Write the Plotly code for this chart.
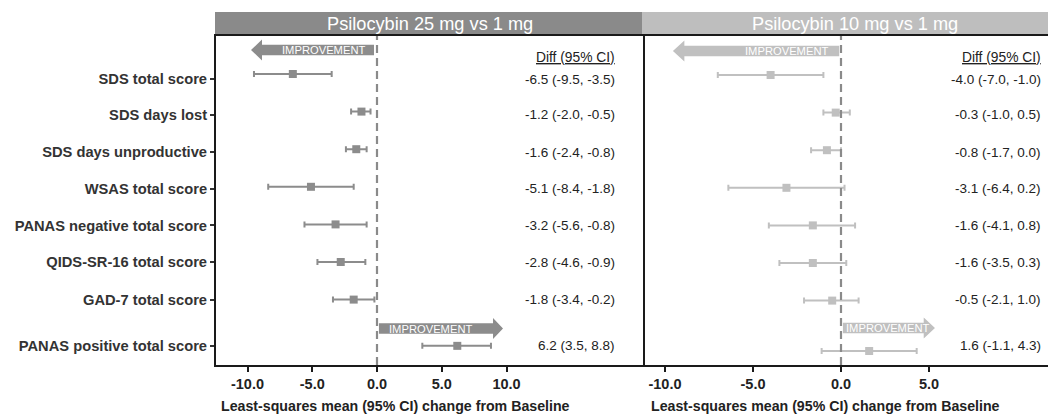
import plotly.graph_objects as go

# ---------------- data ----------------
categories = ["SDS total score", "SDS days lost", "SDS days unproductive", "WSAS total score",
              "PANAS negative total score", "QIDS-SR-16 total score", "GAD-7 total score",
              "PANAS positive total score"]
diff_25 = [-6.5, -1.2, -1.6, -5.1, -3.2, -2.8, -1.8, 6.2]
lo_25 = [-9.5, -2.0, -2.4, -8.4, -5.6, -4.6, -3.4, 3.5]
hi_25 = [-3.5, -0.5, -0.8, -1.8, -0.8, -0.9, -0.2, 8.8]
diff_10 = [-4.0, -0.3, -0.8, -3.1, -1.6, -1.6, -0.5, 1.6]
lo_10 = [-7.0, -1.0, -1.7, -6.4, -4.1, -3.5, -2.1, -1.1]
hi_10 = [-1.0, 0.5, 0.0, 0.2, 0.8, 0.3, 1.0, 4.3]
panel_titles = ["Psilocybin 25 mg vs 1 mg", "Psilocybin 10 mg vs 1 mg"]
x_ticks_25 = [-10, -5, 0, 5, 10]
x_ticks_10 = [-10, -5, 0, 5]
x_title = "Least-squares mean (95% CI) change from Baseline"
diff_header = "Diff (95% CI)"
arrow_label = "IMPROVEMENT"

# ---------------- layout helpers ----------------
OFF = 8                      # page body margin of the browser
W, H = 1056 - OFF, 414 - OFF  # figure size so the page fits the window
UNIT = 37.6  # px per row


def px(x):
    return (x - OFF) / W


def py(y):
    return 1 - (y - OFF) / H


C_DARK = "#8c8c8c"
C_LIGHT = "#c0c0c0"
TXT = "#222222"
AX = "#1a1a1a"
FONT = "Liberation Sans, Arial, sans-serif"

n = len(categories)
# row positions: evenly spaced with an extra gap before the last row
pos_25 = [float(i) for i in range(n - 1)] + [7.23]
pos_10 = [float(i) for i in range(n - 1)] + [7.34]
label_shift = [5, 3, 3, 2, 1, 0, 0, 0]
label_pos = [p + s / UNIT for p, s in zip(pos_25, label_shift)]


def fmt(d, lo, hi):
    return f"{d:.1f} ({lo:.1f}, {hi:.1f})"


fig = go.Figure()
for d, lo, hi, pos, col, xa, ya in [
    (diff_25, lo_25, hi_25, pos_25, C_DARK, "x", "y"),
    (diff_10, lo_10, hi_10, pos_10, C_LIGHT, "x2", "y2"),
]:
    fig.add_trace(go.Scatter(
        x=d, y=pos, xaxis=xa, yaxis=ya, mode="markers",
        marker=dict(symbol="square", size=8, color=col),
        error_x=dict(type="data", symmetric=False,
                     array=[h - v for h, v in zip(hi, d)],
                     arrayminus=[v - l for v, l in zip(d, lo)],
                     color=col, thickness=2, width=3),
        showlegend=False, hoverinfo="skip"))

# axes
l_dom = [px(216), px(643)]
r_dom = [px(643), px(1050)]
y_dom = [py(365), py(36)]
xl_range = [(216 - 377) / 12.95, (643 - 377) / 12.95]
xr_range = [(643 - 841) / 17.6, (1050 - 841) / 17.6]

tickfont = dict(family=FONT, size=14.5, color=TXT)
common_x = dict(showline=True, linecolor=AX, linewidth=2, mirror=True, ticks="outside",
                ticklen=5, tickwidth=1.5, tickcolor=AX, showgrid=False, zeroline=False,
                tickfont=tickfont, automargin=False)
fig.update_layout(
    xaxis=dict(domain=l_dom, range=xl_range, tickvals=x_ticks_25,
               ticktext=[f"<b>{v:.1f}</b>" for v in x_ticks_25], anchor="y", **common_x),
    xaxis2=dict(domain=r_dom, range=xr_range, tickvals=x_ticks_10,
                ticktext=[f"<b>{v:.1f}</b>" for v in x_ticks_10], anchor="y2", **common_x),
    yaxis=dict(domain=y_dom, range=[(365 - 74) / UNIT, (36 - 74) / UNIT], anchor="x",
               tickvals=label_pos, ticktext=[f"<b>{c}</b>" for c in categories],
               ticks="outside", ticklen=4, tickwidth=1.5, tickcolor="#333333",
               tickfont=dict(family=FONT, size=14.7, color="#333333"),
               showline=True, linecolor=AX, linewidth=2, mirror=True,
               showgrid=False, zeroline=False, automargin=False),
    yaxis2=dict(domain=y_dom, range=[(365 - 75) / UNIT, (36 - 75) / UNIT], anchor="x2",
                showticklabels=False, ticks="", showline=False,
                showgrid=False, zeroline=False, automargin=False),
    width=W, height=H, margin=dict(l=0, r=0, t=0, b=0),
    paper_bgcolor="white", plot_bgcolor="white",
    font=dict(family=FONT, color=TXT),
)

shapes = []
annotations = []

# header bars
for (x0, x1, col, tx), title in zip([(215, 642, "#8a8a8a", 429.5), (642, 1050, "#bebebe", 855)], panel_titles):
    shapes.append(dict(type="rect", xref="paper", yref="paper", x0=px(x0), x1=px(x1),
                       y0=py(35), y1=py(12), fillcolor=col, line=dict(width=0), layer="below"))
    annotations.append(dict(text=title, xref="paper", yref="paper", x=px(tx), y=py(23.5),
                            xanchor="center", yanchor="middle", showarrow=False,
                            font=dict(family=FONT, size=18.2, color="white")))

# dashed zero lines
for xa, ya in [("x", "y"), ("x2", "y2")]:
    shapes.append(dict(type="line", xref=xa, yref=f"{ya} domain", x0=0, x1=0, y0=0, y1=1,
                       line=dict(color="#8a8a8a", width=2.2, dash="8px,5px")))


def arrow_path(base, neck, tip, yc, hb, hh):
    return (f"M {base},{yc - hb} L {neck},{yc - hb} L {neck},{yc - hh} L {tip},{yc} "
            f"L {neck},{yc + hh} L {neck},{yc + hb} L {base},{yc + hb} Z")


arrows = [
    ("x", "y", -0.23, -8.88, -9.73, (50 - 74) / UNIT, -4.15, C_DARK),
    ("x", "y", 0.15, 8.96, 9.73, (328.5 - 74) / UNIT, 4.1, C_DARK),
    ("x2", "y2", -0.1, -8.9, -9.55, (51 - 75) / UNIT, -3.07, C_LIGHT),
    ("x2", "y2", 0.11, 4.7, 5.34, (328 - 75) / UNIT, 2.67, C_LIGHT),
]
for xa, ya, base, neck, tip, yc, tx, col in arrows:
    shapes.append(dict(type="path", xref=xa, yref=ya,
                       path=arrow_path(base, neck, tip, yc, 5.3 / UNIT, 10.5 / UNIT),
                       fillcolor=col, line=dict(width=0)))
    annotations.append(dict(text=arrow_label, xref=xa, yref=ya, x=tx, y=yc,
                            xanchor="center", yanchor="middle", showarrow=False,
                            font=dict(family=FONT, size=11.2, color="white")))

# diff columns
for right_px, d, lo, hi in [(617, diff_25, lo_25, hi_25), (1043, diff_10, lo_10, hi_10)]:
    annotations.append(dict(text=f"<span style='text-decoration:underline'>{diff_header}</span>",
                            xref="paper", yref="paper", x=px(right_px), y=py(57),
                            xanchor="right", yanchor="middle", showarrow=False,
                            font=dict(family=FONT, size=13.8, color=TXT)))
    for i in range(n):
        annotations.append(dict(text=fmt(d[i], lo[i], hi[i]), xref="paper", yref="y",
                                x=px(right_px), y=label_pos[i], xanchor="right",
                                yanchor="middle", showarrow=False,
                                font=dict(family=FONT, size=13.5, color=TXT)))

# x-axis titles
for left_px in [219, 649]:
    annotations.append(dict(text=f"<b>{x_title}</b>", xref="paper", yref="paper",
                            x=px(left_px), y=py(406), xanchor="left", yanchor="middle",
                            showarrow=False, font=dict(family=FONT, size=14.2, color=TXT)))

fig.update_layout(shapes=shapes, annotations=annotations)
fig.write_html("out.html")
